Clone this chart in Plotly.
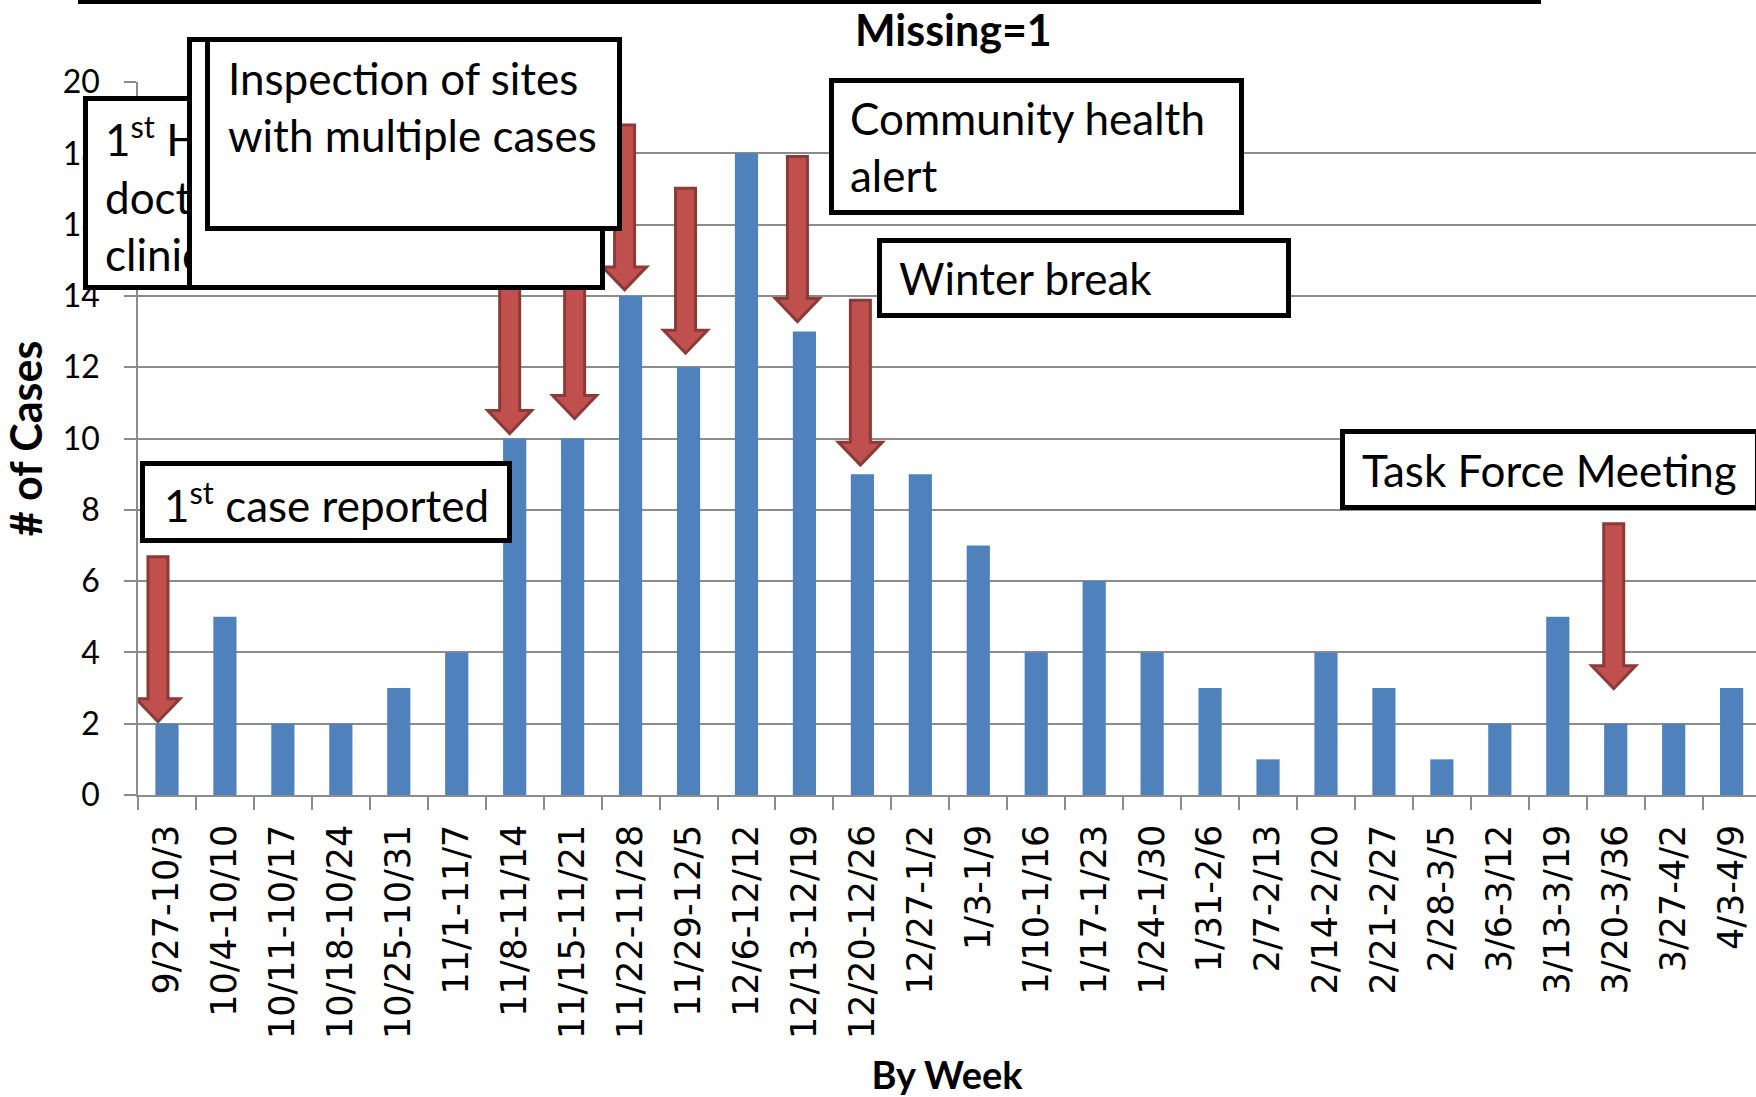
import plotly.graph_objects as go

# ---------------- data ----------------
WEEKS = ["9/27-10/3", "10/4-10/10", "10/11-10/17", "10/18-10/24", "10/25-10/31",
         "11/1-11/7", "11/8-11/14", "11/15-11/21", "11/22-11/28", "11/29-12/5",
         "12/6-12/12", "12/13-12/19", "12/20-12/26", "12/27-1/2", "1/3-1/9",
         "1/10-1/16", "1/17-1/23", "1/24-1/30", "1/31-2/6", "2/7-2/13",
         "2/14-2/20", "2/21-2/27", "2/28-3/5", "3/6-3/12", "3/13-3/19",
         "3/20-3/36", "3/27-4/2", "4/3-4/9"]
CASES = [2, 5, 2, 2, 3, 4, 10, 10, 14, 12, 18, 13, 9, 9, 7, 4, 6, 4, 3, 1, 4, 3, 1, 2, 5, 2, 2, 3]
Y_TICKS = [0, 2, 4, 6, 8, 10, 12, 14, 16, 18, 20]

ARROW_WEEKS = ["9/27-10/3", "11/8-11/14", "11/15-11/21", "11/22-11/28",
               "11/29-12/5", "12/13-12/19", "12/20-12/26", "3/20-3/36"]

# ---------------- layout geometry ----------------
W, H = 1756, 1097
PL, PR, PT, PB = 138, 1756, 82, 795
CAT_W = 57.95
FONT = "Lato, Carlito, 'Open Sans', sans-serif"
TICK_FONT = "'DejaVu Sans', Verdana, sans-serif"
GRID = "#8c8c8c"
BOX_FONT = 44


def px(x):
    return (x - PL) / (PR - PL)


def py(y):
    return (PB - y) / (PB - PT)


fig = go.Figure(go.Bar(x=WEEKS, y=CASES, marker=dict(color="#4F81BD", line=dict(width=0)),
                       hoverinfo="x+y"))

fig.update_layout(
    width=W, height=H, autosize=False,
    margin=dict(l=PL, r=W - PR, t=PT, b=H - PB, pad=0),
    plot_bgcolor="white", paper_bgcolor="white",
    bargap=0.6, showlegend=False,
    font=dict(family=FONT, color="black"),
)

fig.update_xaxes(
    type="category", range=[-0.5, -0.5 + (PR - PL) / CAT_W],
    tickson="boundaries", ticks="outside", ticklen=13, tickwidth=1.5, tickcolor=GRID,
    showline=True, linecolor=GRID, linewidth=1.5, showgrid=False,
    tickangle=-90, tickfont=dict(family=TICK_FONT, size=35, color="black"),
    ticklabelstandoff=14,
    title=dict(text="<b>By Week</b>", font=dict(family=FONT, size=38, color="black"), standoff=27),
)
fig.update_yaxes(
    range=[0, 20], tickvals=Y_TICKS, showgrid=True, gridcolor=GRID, gridwidth=1.5,
    ticks="outside", ticklen=12, tickwidth=1.5, tickcolor=GRID,
    showline=True, linecolor=GRID, linewidth=1.5, zeroline=False,
    tickfont=dict(family=FONT, size=32, color="black"), ticklabelstandoff=18,
    title=dict(text="<b># of Cases</b>", font=dict(family=FONT, size=43, color="black"), standoff=12),
)

# ---------------- arrows (block arrows pointing down) ----------------
arrow_style = {  # week: (dx px, lift above bar top px)
    "9/27-10/3": (-9, 2), "11/8-11/14": (-5, 5), "11/15-11/21": (2, 20),
    "11/22-11/28": (-6, 6), "11/29-12/5": (-3, 14), "12/13-12/19": (-7, 10),
    "12/20-12/26": (-2, 9), "3/20-3/36": (-2, 35),
}
SHAFT, HEAD, HEAD_LEN, LENGTH = 10, 22, 23, 165
shapes = []
for wk in ARROW_WEEKS:
    dx, lift = arrow_style[wk]
    v = CASES[WEEKS.index(wk)]
    pts = [(-SHAFT, LENGTH), (SHAFT, LENGTH), (SHAFT, HEAD_LEN), (HEAD, HEAD_LEN), (0, 0),
           (-HEAD, HEAD_LEN), (-SHAFT, HEAD_LEN)]
    path = "M " + " L ".join(f"{x + dx},{y + lift}" for x, y in pts) + " Z"
    shapes.append(dict(type="path", xref="x", yref="y", xsizemode="pixel", ysizemode="pixel",
                       xanchor=wk, yanchor=v, path=path,
                       fillcolor="#C0504D", line=dict(color="#8C3A37", width=3), layer="above"))

# top border line
shapes.append(dict(type="line", xref="paper", yref="paper", x0=px(78), x1=px(1541),
                   y0=py(2), y1=py(2), line=dict(color="black", width=4)))
fig.update_layout(shapes=shapes)

# ---------------- annotation boxes ----------------
BW = 5
anns = []


def box(L, T, R, B):
    anns.append(dict(text=" ", xref="paper", yref="paper", x=px(L), y=py(T),
                     xanchor="left", yanchor="top", showarrow=False,
                     width=R - L - 2 * BW, height=B - T - 2 * BW, borderpad=0,
                     borderwidth=BW, bordercolor="black", bgcolor="white"))


def label(text, x, y, size=BOX_FONT, bold=False):
    anns.append(dict(text=f"<b>{text}</b>" if bold else text, xref="paper", yref="paper",
                     x=px(x), y=py(y), xanchor="left", yanchor="middle", align="left",
                     showarrow=False, font=dict(family=FONT, size=size, color="black")))


box(140, 461, 512, 543)
label("1<sup>st</sup> case reported", 162, 502)
box(1340, 429, 1760, 510)
label("Task Force Meeting", 1360, 470)
box(877, 238, 1291, 318)
label("Winter break", 897, 278)
box(829, 78, 1244, 215)
label("Community health<br>alert", 848, 146.5)
box(83, 96, 420, 290)
label("1<sup>st</sup> HD<br>doctors<br>clinics", 103, 194)
box(187, 37, 605, 290)
box(205, 37, 622, 231)
label("Inspection of sites<br>with multiple cases", 226, 106.5)
anns.append(dict(text="<b>Missing=1</b>", xref="paper", yref="paper", x=px(953), y=py(30),
                 xanchor="center", yanchor="middle", showarrow=False,
                 font=dict(family=FONT, size=43, color="black")))
fig.update_layout(annotations=anns)

fig.write_html("out.html", config={"displayModeBar": False},
               post_script="document.body.style.margin='0';document.body.style.padding='0';")
